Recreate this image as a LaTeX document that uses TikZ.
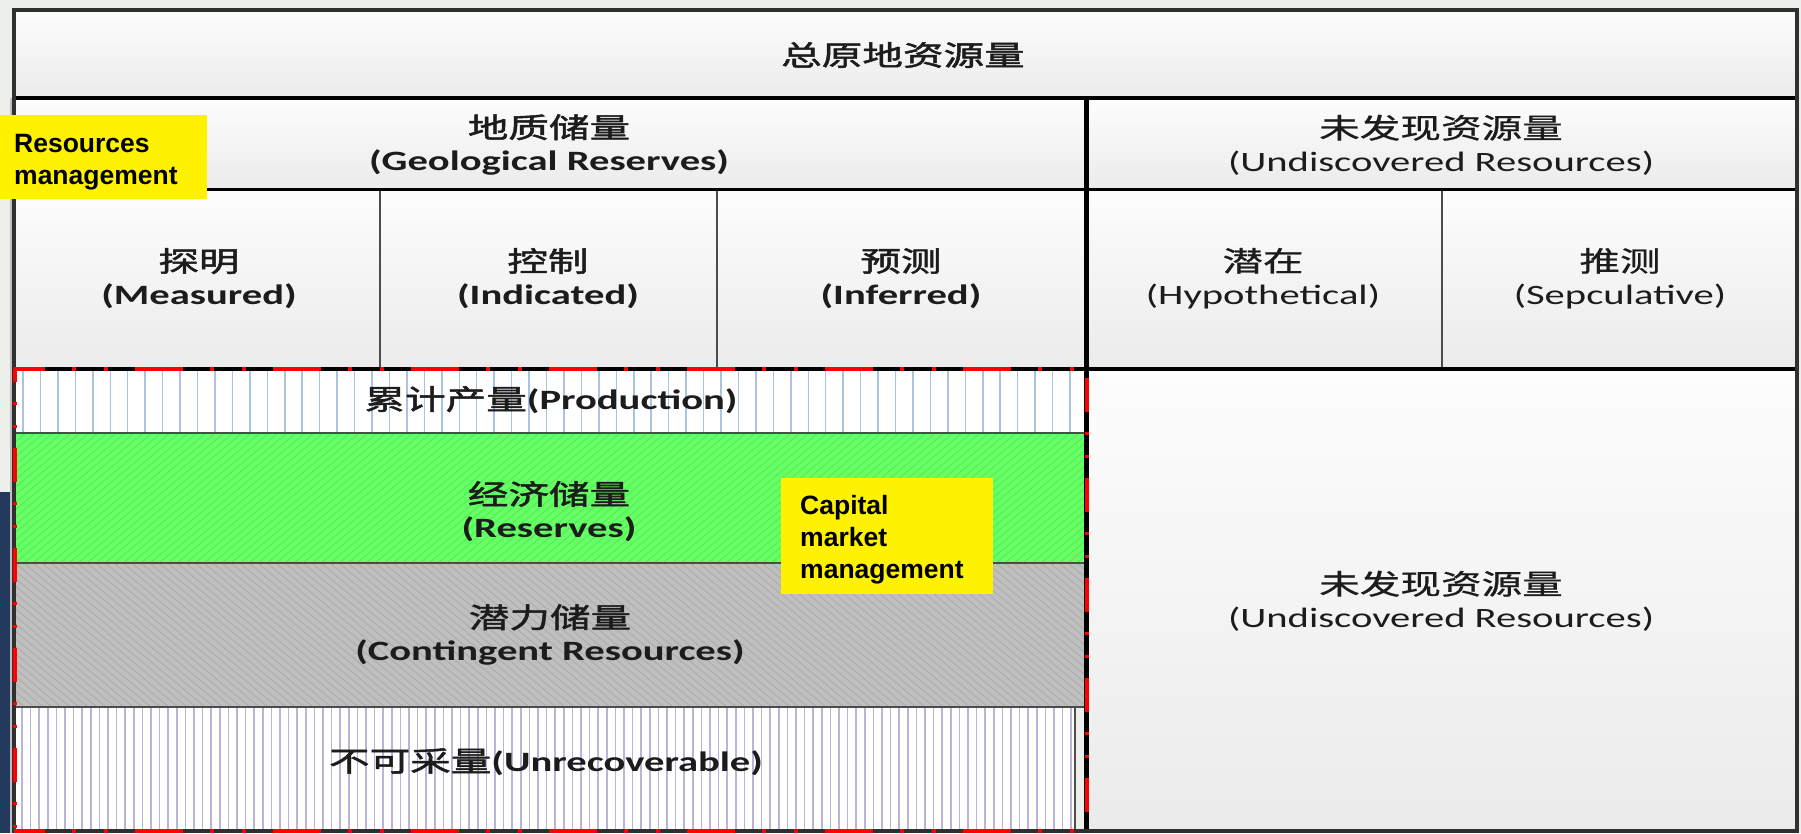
\documentclass[tikz,border=0pt]{standalone}
\usepackage{fontspec}
\setmainfont{Liberation Sans}
\newfontfamily\cn[FakeStretch=1.45,FakeBold=0.8]{Noto Sans CJK SC}
\newfontfamily\cnb[FakeStretch=1.45,FakeBold=1.8]{Noto Sans CJK SC}
\newfontfamily\en[FakeStretch=1.45]{Carlito}
\newfontfamily\ar{Liberation Sans}
\definecolor{bgc}{HTML}{EDF0EA}
\definecolor{navy}{HTML}{243A5C}
\definecolor{celltop}{HTML}{FDFDFD}
\definecolor{cellbot}{HTML}{EBEBEB}
\definecolor{gfill}{HTML}{66FF66}
\definecolor{ghatch}{HTML}{55EC55}
\definecolor{kfill}{HTML}{BFBFBF}
\definecolor{khatch}{HTML}{ACACAC}
\definecolor{bstripe}{HTML}{A9C4E2}
\definecolor{pstripe}{HTML}{BDB2DA}
\definecolor{txt}{HTML}{1C1C1C}
\definecolor{bordc}{HTML}{303030}
\tikzset{
  cell/.style={top color=celltop,bottom color=cellbot},
  lbl/.style={inner sep=0pt,align=center,text=txt,font=\fontsize{28}{33}\selectfont},
  ybox/.style={fill=yellow},
  ytxt/.style={inner sep=0pt,anchor=base west,font=\ar\bfseries\fontsize{26.5}{32}\selectfont},
  thick line/.style={line width=4pt,black},
  thin line/.style={line width=1.5pt,black!70},
  reddashh/.style={red,line width=4pt,dash pattern=on 48pt off 27pt on 4pt off 28pt on 4pt off 27pt},
  reddashv/.style={red,line width=4pt,dash pattern=on 34pt off 20pt on 3pt off 20pt on 3pt off 20pt},
}
\begin{document}
\begin{tikzpicture}[x=1pt,y=-1pt]
\useasboundingbox (0,0) rectangle (1801,833);
\fill[bgc] (0,0) rectangle (1801,833);
\fill[navy] (0,492) rectangle (11,833);
% shaded cells
\shade[cell] (13,10) rectangle (1797,98);
\shade[cell] (13,98) rectangle (1085,189);
\shade[cell] (1085,98) rectangle (1797,189);
\shade[cell] (13,189) rectangle (380,368);
\shade[cell] (380,189) rectangle (717,368);
\shade[cell] (717,189) rectangle (1085,368);
\shade[cell] (1085,189) rectangle (1442,368);
\shade[cell] (1442,189) rectangle (1797,368);
\shade[cell] (1085,368) rectangle (1797,831);
% production stripes
\begin{scope}
  \clip (15,368) rectangle (1084,433);
  \fill[white] (15,368) rectangle (1084,433);
  \foreach \i in {0,...,61} \draw[bstripe,line width=1.5pt] ({23+17.45*\i},368) -- ++(0,65);
\end{scope}
% reserves green hatch
\begin{scope}
  \clip (15,433) rectangle (1084,563);
  \fill[gfill] (15,433) rectangle (1084,563);
  \foreach \i in {-18,...,120} \draw[ghatch,line width=1pt] ({15+9*\i},563) -- ++(155,-130);
\end{scope}
% contingent grey hatch
\begin{scope}
  \clip (15,563) rectangle (1084,707);
  \fill[kfill] (15,563) rectangle (1084,707);
  \foreach \i in {-20,...,120} \draw[khatch,line width=0.9pt] ({15+9*\i},563) -- ++(172,144);
\end{scope}
% unrecoverable stripes
\begin{scope}
  \clip (15,707) rectangle (1075,831);
  \fill[white] (15,707) rectangle (1084,831);
  \foreach \i in {0,...,122} \draw[pstripe,line width=1.5pt] ({22+8.6*\i},707) -- ++(0,124);
\end{scope}
% thin lines in the lower-left block
\draw[thin line] (15,433) -- (1084,433);
\draw[thin line] (15,563) -- (1084,563);
\draw[thin line] (15,707) -- (1084,707);
\draw[thin line] (1075,707) -- (1075,831);
% column dividers
\draw[thin line] (380,189) -- (380,368);
\draw[thin line] (717,189) -- (717,368);
\draw[thin line] (1442,189) -- (1442,368);
% main rules
\draw[thick line] (13,98) -- (1797,98);
\draw[line width=3pt,black] (13,189) -- (1797,189);
\draw[thick line] (13,368.5) -- (1797,368.5);
\draw[line width=5pt,black] (1086,98) -- (1086,831);
\draw[line width=4.5pt,bordc] (14,10) rectangle (1797,831);
\draw[line width=2pt,black!25] (10.5,98) -- (10.5,833);
% red dashed frame
\draw[reddashh,dash phase=17pt] (14,368.5) -- (1086,368.5);
\draw[reddashh,dash phase=17pt] (14,831) -- (1086,831);
\draw[reddashv,dash phase=21pt] (15,368.5) -- (15,831);
\draw[reddashv,dash phase=91pt] (1087,368.5) -- (1087,831);
% texts
\node[lbl] (title) at (903,55) {\cnb 总原地资源量};
\node[lbl] (geo) at (549,145) {\cnb 地质储量\\\en\bfseries (Geological Reserves)};
\node[lbl] (und1) at (1441,145) {\cn 未发现资源量\\\en (Undiscovered Resources)};
\node[lbl] (mea) at (199,278.5) {\cnb 探明\\\en\bfseries (Measured)};
\node[lbl] (ind) at (548,278.5) {\cnb 控制\\\en\bfseries (Indicated)};
\node[lbl] (inf) at (901,278.5) {\cnb 预测\\\en\bfseries (Inferred)};
\node[lbl] (hyp) at (1263,278.5) {\cn 潜在\\\en (Hypothetical)};
\node[lbl] (spe) at (1620,278.5) {\cn 推测\\\en (Sepculative)};
\node[lbl] (pro) at (551,400) {{\cnb 累计产量}{\en\bfseries (Production)}};
\node[lbl] (res) at (549,511.5) {\cnb 经济储量\\\en\bfseries (Reserves)};
\node[lbl] (con) at (550,635) {\cnb 潜力储量\\\en\bfseries (Contingent Resources)};
\node[lbl] (unr) at (546,762) {{\cnb 不可采量}{\en\bfseries (Unrecoverable)}};
\node[lbl] (und2) at (1441,601) {\cn 未发现资源量\\\en (Undiscovered Resources)};
% yellow notes
\fill[ybox] (0,115) rectangle (207,199);
\node[ytxt] (rm1) at (14,152) {Resources};
\node[ytxt] (rm2) at (14,184) {management};
\fill[ybox] (781,478) rectangle (993,594);
\node[ytxt] (cm1) at (800,514) {Capital};
\node[ytxt] (cm2) at (800,546) {market};
\node[ytxt] (cm3) at (800,578) {management};
\end{tikzpicture}
\end{document}
